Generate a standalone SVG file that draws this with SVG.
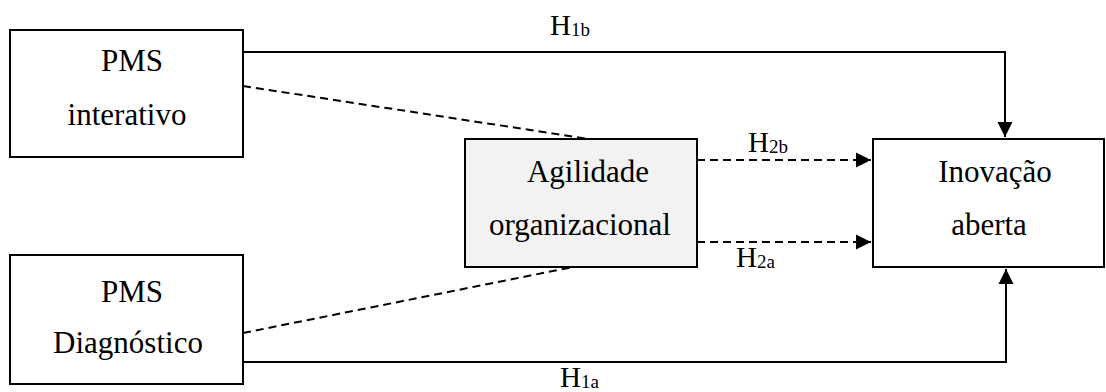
<svg xmlns="http://www.w3.org/2000/svg" width="1106" height="392" viewBox="0 0 1106 392">
  <style>
    .box { fill: #ffffff; stroke: #000000; stroke-width: 2; }
    .gray { fill: #f2f2f2; }
    .t { font-family: 'Times New Roman', 'Liberation Serif', 'DejaVu Serif', serif; font-size: 31px; fill: #000000; text-anchor: middle; }
    .h { font-family: 'Times New Roman', 'Liberation Serif', 'DejaVu Serif', serif; font-size: 29px; fill: #000000; }
    .sub { font-size: 19px; }
    .solid { fill: none; stroke: #000000; stroke-width: 2; }
    .dash { fill: none; stroke: #000000; stroke-width: 2; stroke-dasharray: 8 5; }
  </style>
  <defs>
    <marker id="arrow" markerUnits="userSpaceOnUse" markerWidth="16" markerHeight="16" viewBox="0 0 16 16" refX="15" refY="8" orient="auto">
      <path d="M0,0.5 L15,8 L0,15.5 Z" fill="#000000"/>
    </marker>
  </defs>

  <g id="connectors">
    <path class="solid" d="M243,52 H1005 V137" marker-end="url(#arrow)"/>
    <path class="solid" d="M243,362 H1006 V269" marker-end="url(#arrow)"/>
    <path class="dash" d="M243,86 L589,139"/>
    <path class="dash" d="M243,333 L573,267"/>
    <path class="dash" d="M697,160 H871" marker-end="url(#arrow)"/>
    <path class="dash" d="M697,242 H871" marker-end="url(#arrow)"/>
    <text class="h" x="550" y="35">H<tspan class="sub" dy="1">1b</tspan></text>
    <text class="h" x="560" y="387">H<tspan class="sub" dy="1">1a</tspan></text>
    <text class="h" x="748" y="152">H<tspan class="sub" dy="1">2b</tspan></text>
    <text class="h" x="736" y="267">H<tspan class="sub" dy="1">2a</tspan></text>
  </g>

  <g id="pms-interativo">
    <rect class="box" x="10" y="30" width="233" height="127"/>
    <text class="t" x="132" y="71">PMS</text>
    <text class="t" x="127" y="125">interativo</text>
  </g>

  <g id="pms-diagnostico">
    <rect class="box" x="10" y="255" width="233" height="129"/>
    <text class="t" x="132" y="302">PMS</text>
    <text class="t" x="128" y="353">Diagnóstico</text>
  </g>

  <g id="agilidade">
    <rect class="box gray" x="465" y="139" width="232" height="128"/>
    <text class="t" x="588" y="182">Agilidade</text>
    <text class="t" x="580" y="235">organizacional</text>
  </g>

  <g id="inovacao">
    <rect class="box" x="873" y="139" width="231" height="128"/>
    <text class="t" x="995" y="182">Inovação</text>
    <text class="t" x="989" y="235">aberta</text>
  </g>
</svg>
